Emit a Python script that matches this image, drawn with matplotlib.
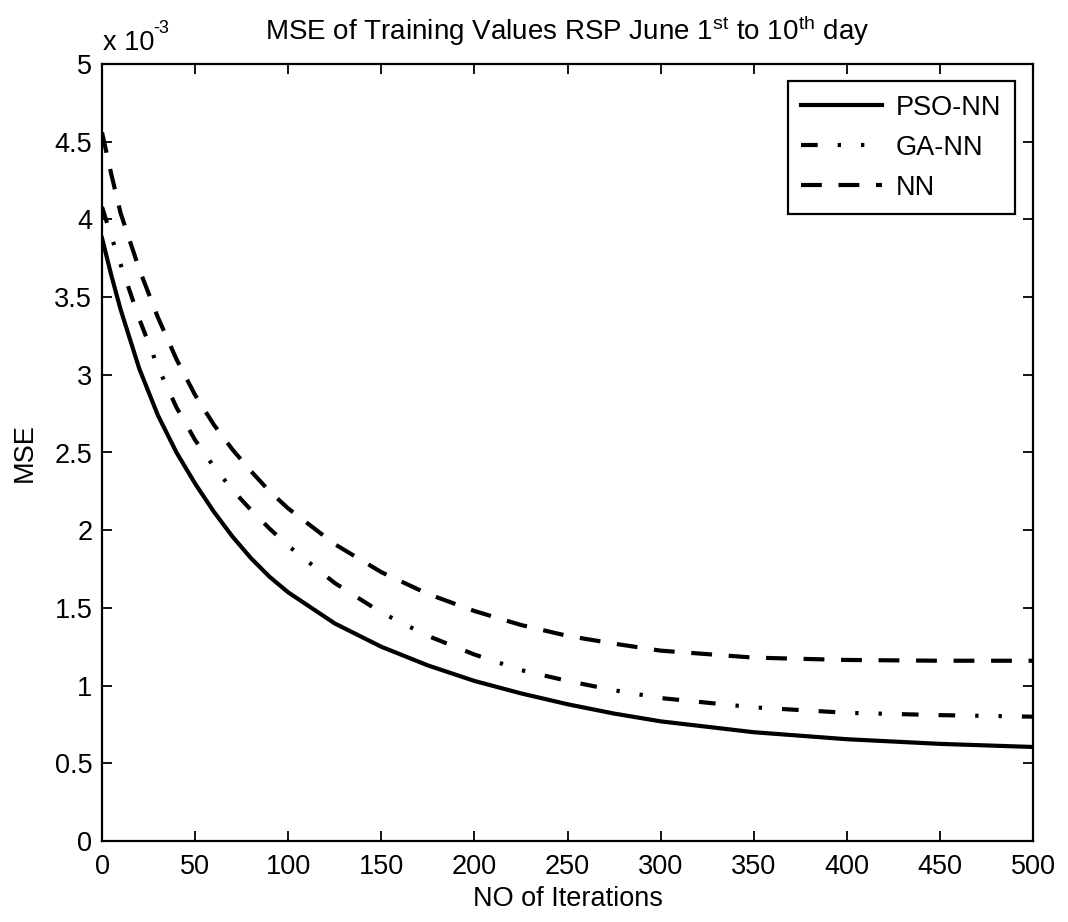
import numpy as np
import matplotlib
matplotlib.use("Agg")
import matplotlib.pyplot as plt

# iterations at which the MSE was sampled (values in units of 1e-3)
iters = [0, 5, 10, 20, 30, 40, 50, 60, 70, 80, 90, 100, 125, 150, 175, 200,
         225, 250, 275, 300, 350, 400, 450, 500]
mse_pso = [3.88, 3.64, 3.42, 3.04, 2.74, 2.50, 2.30, 2.12, 1.96, 1.82, 1.70, 1.60,
           1.40, 1.25, 1.13, 1.03, 0.95, 0.88, 0.82, 0.77, 0.70, 0.655, 0.625, 0.605]
mse_ga = [4.08, 3.89, 3.71, 3.36, 3.05, 2.79, 2.58, 2.41, 2.26, 2.13, 2.01, 1.90,
          1.66, 1.47, 1.32, 1.20, 1.10, 1.03, 0.97, 0.92, 0.86, 0.825, 0.81, 0.80]
mse_nn = [4.56, 4.29, 4.04, 3.68, 3.37, 3.10, 2.87, 2.68, 2.52, 2.38, 2.25, 2.14,
          1.91, 1.73, 1.59, 1.48, 1.39, 1.32, 1.27, 1.225, 1.18, 1.165, 1.16, 1.16]

xticks = [0, 50, 100, 150, 200, 250, 300, 350, 400, 450, 500]
yticks = [0, 0.5, 1, 1.5, 2, 2.5, 3, 3.5, 4, 4.5, 5]

plt.rcParams['font.family'] = ['Liberation Sans', 'DejaVu Sans']
plt.rcParams['mathtext.fontset'] = 'custom'
plt.rcParams['mathtext.rm'] = 'Liberation Sans'
plt.rcParams['mathtext.it'] = 'Liberation Sans'

fs = 19.5
scale = 1e-3
x = np.array(iters)

fig = plt.figure(figsize=(10.68, 9.22), dpi=100)
ax = fig.add_axes([102 / 1068, 1 - 841 / 922, 931 / 1068, 777 / 922])

lw = 3
ax.plot(x, np.array(mse_pso) * scale, color='k', lw=lw, ls='-', label='PSO-NN')
ax.plot(x, np.array(mse_ga) * scale, color='k', lw=lw,
        ls=(0, (4, 4.8, 0.8, 4.8, 0.8, 4.8, 4, 4.8)), label='GA-NN')
ax.plot(x, np.array(mse_nn) * scale, color='k', lw=lw,
        ls=(0, (5, 4)), label='NN')

ax.set_xlim(0, 500)
ax.set_ylim(0, 5 * scale)
ax.set_xticks(xticks)
ax.set_yticks([v * scale for v in yticks])
ax.set_yticklabels(['%g' % v for v in yticks])

ax.tick_params(direction='in', length=7, width=1.3, top=True, right=True,
               labelsize=fs)
ax.tick_params(axis='x', pad=9)
ax.tick_params(axis='y', pad=7)
for sp in ax.spines.values():
    sp.set_linewidth(1.6)

# exponent label in the top left corner
ax.annotate('x 10', xy=(0, 1), xycoords='axes fraction', xytext=(1, 10),
            textcoords='offset points', fontsize=fs, ha='left', va='baseline')
ax.annotate('-3', xy=(0, 1), xycoords='axes fraction', xytext=(37, 22),
            textcoords='offset points', fontsize=13, ha='left', va='baseline')

ax.set_title(r'MSE of Training Values RSP June 1$^{\mathregular{st}}$ to 10$^{\mathregular{th}}$ day',
             fontsize=20, pad=17)
ax.set_xlabel('NO of Iterations', fontsize=fs, labelpad=5)
ax.set_ylabel('MSE', fontsize=fs, labelpad=12)

leg = ax.legend(loc='upper right', bbox_to_anchor=((1015 - 102) / 931, (841 - 81) / 777),
                borderaxespad=0, fontsize=fs, handlelength=3.0, handletextpad=0.5,
                labelspacing=0.52, borderpad=0.5, fancybox=False, framealpha=1)
leg.get_frame().set_edgecolor('k')
leg.get_frame().set_linewidth(1.6)

fig.savefig('out.png', dpi=100)
